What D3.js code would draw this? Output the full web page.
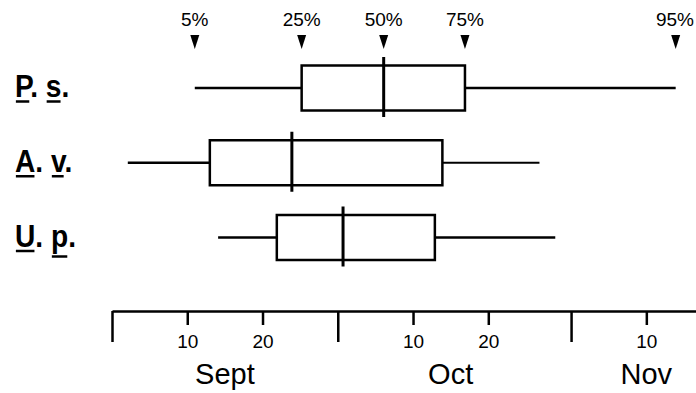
<!DOCTYPE html>
<html>
<head>
<meta charset="utf-8">
<script src="https://cdn.jsdelivr.net/npm/d3@7"></script>
<style>
  body { margin: 0; background: #fff; }
  svg { display: block; font-family: "Liberation Sans", Arial, Helvetica, sans-serif; }
</style>
</head>
<body>
<div id="chart"></div>
<script>
// Emergence timing (days from 1 Sept) - percentiles per species
const speciesA = ["P", "A", "U"];
const speciesB = ["s", "v", "p"];
const p5 = [11.0, 2.1, 14.1];
const p25 = [25.2, 13.0, 21.9];
const p50 = [36.1, 23.9, 30.7];
const p75 = [46.9, 43.9, 42.9];
const p95 = [74.9, 56.8, 58.9];
const percentLabels = ["5%", "25%", "50%", "75%", "95%"];

// Axis ticks (days from 1 Sept)
const monthTicks = [0, 30, 61];
const dayTicks = [10, 20, 40, 50, 71];
const dayTickLabels = ["10", "20", "10", "20", "10"];
const monthNames = ["Sept", "Oct", "Nov"];
const monthLabelPos = [15, 45, 71];

const width = 696, height = 393;

const svg = d3.select("#chart").append("svg")
    .attr("width", width)
    .attr("height", height);

const x = d3.scaleLinear().domain([0, 77.6]).range([112, 696]);
const rows = speciesA.map((d, i) => d + speciesB[i]);
const y = d3.scalePoint().domain(rows).range([88, 237.5]);
const boxH = 45;

const data = rows.map((r, i) => ({
    key: r, a: speciesA[i], b: speciesB[i],
    p5: p5[i], p25: p25[i], p50: p50[i], p75: p75[i], p95: p95[i]
}));

// whiskers
svg.selectAll(".whisker-left")
    .data(data).enter().append("line")
    .attr("x1", d => x(d.p5)).attr("x2", d => x(d.p25))
    .attr("y1", d => y(d.key)).attr("y2", d => y(d.key))
    .attr("stroke", "#000").attr("stroke-width", 2.5);

svg.selectAll(".whisker-right")
    .data(data).enter().append("line")
    .attr("x1", d => x(d.p75)).attr("x2", d => x(d.p95))
    .attr("y1", d => y(d.key)).attr("y2", d => y(d.key))
    .attr("stroke", "#000").attr("stroke-width", (d, i) => i === 1 ? 1.8 : 2.5);

// boxes
svg.selectAll(".box")
    .data(data).enter().append("rect")
    .attr("x", d => x(d.p25))
    .attr("width", d => x(d.p75) - x(d.p25))
    .attr("y", d => y(d.key) - boxH / 2)
    .attr("height", boxH)
    .attr("fill", "none").attr("stroke", "#000").attr("stroke-width", 2.5);

// medians
svg.selectAll(".median")
    .data(data).enter().append("line")
    .attr("x1", d => x(d.p50)).attr("x2", d => x(d.p50))
    .attr("y1", d => y(d.key) - 31).attr("y2", d => y(d.key) + 29)
    .attr("stroke", "#000").attr("stroke-width", 3);

// percentile markers above first row
const first = data[0];
const pvals = [first.p5, first.p25, first.p50, first.p75, first.p95];
pvals.forEach((v, i) => {
    const cx = x(v);
    svg.append("path")
        .attr("d", `M${cx - 4.5},35 L${cx + 4.5},35 L${cx},49 Z`)
        .attr("fill", "#000");
    const t = svg.append("text")
        .attr("x", cx).attr("y", 26)
        .attr("text-anchor", "middle")
        .attr("font-size", 19)
        .text(percentLabels[i]);
    const bb = t.node().getBBox();
    if (bb.x + bb.width > width - 2) {
        t.attr("text-anchor", "end").attr("x", width - 2);
    }
});

// species labels with underlined initials
data.forEach(d => {
    const base = y(d.key) + 9;
    const g = svg.append("g")
        .attr("transform", `translate(15,${base}) scale(0.88,1)`);
    const t = g.append("text")
        .attr("x", 0).attr("y", 0)
        .attr("font-size", 32).attr("font-weight", "bold")
        .text(`${d.a}. ${d.b}.`);
    [0, 3].forEach(ci => {
        const ext = t.node().getExtentOfChar(ci);
        const uy = (ci === 3 && d.b === "p") ? 10 : 4.5;
        g.append("line")
            .attr("x1", ext.x + 1).attr("x2", ext.x + ext.width - 1)
            .attr("y1", uy).attr("y2", uy)
            .attr("stroke", "#000").attr("stroke-width", 2.5);
    });
});

// axis
const axisY = 311;
const majorAxis = svg.append("g")
    .attr("transform", `translate(0,${axisY})`)
    .call(d3.axisBottom(x).tickValues(monthTicks).tickSize(31).tickSizeOuter(0).tickFormat(""));
majorAxis.select(".domain").attr("stroke-width", 2.5);
majorAxis.selectAll(".tick line").attr("stroke-width", 2.5);

const minorAxis = svg.append("g")
    .attr("transform", `translate(0,${axisY})`)
    .call(d3.axisBottom(x).tickValues(dayTicks).tickSize(14).tickPadding(10)
        .tickFormat((d, i) => dayTickLabels[i]));
minorAxis.select(".domain").remove();
minorAxis.selectAll(".tick line").attr("stroke-width", 2.5);
minorAxis.selectAll("text")
    .attr("font-size", 19)
    .attr("font-family", "Liberation Sans, Arial, sans-serif")
    .attr("fill", "#000");

svg.selectAll(".month-label")
    .data(monthNames).enter().append("text")
    .attr("x", (d, i) => x(monthLabelPos[i]))
    .attr("y", 384)
    .attr("text-anchor", "middle")
    .attr("font-size", 29)
    .text(d => d);
</script>
</body>
</html>
